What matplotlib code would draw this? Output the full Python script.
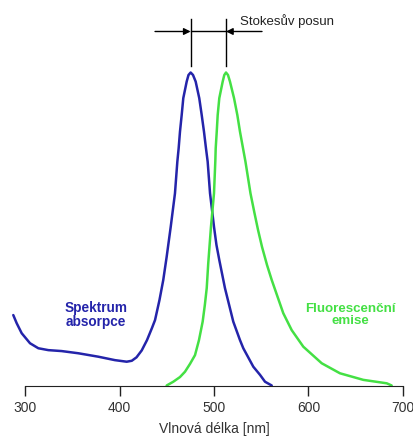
import matplotlib
matplotlib.use("Agg")
import matplotlib.pyplot as plt
import numpy as np

# absorption spectrum (blue)
abs_nm = [287.6, 291.2, 296.5, 305.3, 314.1, 324.7, 338.8, 356.4, 377.6, 395.2,
          407.6, 413.0, 418.0, 423.5, 429.1, 434.4, 437.6, 442.3, 446.3, 449.9, 454.2,
          458.7, 461.2, 462.6, 464.0, 465.8, 467.5, 471.1, 473.0, 475.3, 477.8,
          480.6, 484.4, 487.0, 489.4, 491.5, 493.3, 495.8, 497.9, 500.0, 502.6,
          505.6, 511.6, 520.4, 527.5, 531.0, 541.6, 548.7, 554.0, 561.1]
abs_val = [0.225, 0.199, 0.167, 0.135, 0.119, 0.113, 0.110, 0.103, 0.092, 0.081,
           0.076, 0.079, 0.090, 0.112, 0.145, 0.184, 0.209, 0.273, 0.337, 0.411, 0.507,
           0.614, 0.715, 0.758, 0.811, 0.864, 0.918, 0.971, 0.992, 1.0, 0.992,
           0.971, 0.918, 0.864, 0.811, 0.758, 0.715, 0.614, 0.561, 0.507, 0.449,
           0.401, 0.311, 0.204, 0.145, 0.119, 0.060, 0.034, 0.012, 0.0]

# fluorescence emission (green)
em_nm = [449.9, 456.9, 464.0, 469.3, 474.6, 479.9, 484.1, 488.0, 490.3, 492.3,
         493.9, 496.8, 500.0, 501.4, 501.8, 502.9, 503.9, 505.6, 509.2, 510.9,
         512.7, 514.8, 516.9, 521.2, 524.7, 527.5, 530.7, 533.3, 538.6, 542.9,
         546.6, 550.8, 556.1, 561.1, 573.3, 582.2, 594.5, 614.0, 633.3, 658.0,
         682.8, 688.0]
em_val = [0.0, 0.012, 0.027, 0.044, 0.069, 0.097, 0.145, 0.204, 0.257, 0.311,
          0.390, 0.507, 0.614, 0.717, 0.758, 0.811, 0.864, 0.918, 0.971, 0.992,
          1.0, 0.992, 0.971, 0.918, 0.864, 0.811, 0.758, 0.715, 0.614, 0.550,
          0.497, 0.443, 0.385, 0.337, 0.231, 0.177, 0.124, 0.071, 0.039, 0.018,
          0.007, 0.0]

xticks = [300, 400, 500, 600, 700]

BLUE = "#2424aa"
GREEN = "#44e044"

plt.rcParams['font.family'] = ['Liberation Sans', 'DejaVu Sans']

fig = plt.figure(figsize=(4.14, 4.41), dpi=100)
ax = fig.add_axes([25/414, 55.5/441, 378/414, 313/441])

ax.plot(abs_nm, abs_val, color=BLUE, lw=1.8, solid_joinstyle="round",
        solid_capstyle="round", clip_on=False)
ax.plot(em_nm, em_val, color=GREEN, lw=1.8, solid_joinstyle="round",
        solid_capstyle="round", clip_on=False)

ax.set_xlim(300, 700)
ax.set_ylim(0, 1)
for s in ["top", "right", "left"]:
    ax.spines[s].set_visible(False)
ax.spines["bottom"].set_color("#222222")
ax.set_yticks([])
ax.set_xticks(xticks)
ax.tick_params(axis="x", direction="out", length=7.5, width=1, color="#222222",
               labelsize=10, labelcolor="#333333", pad=4)
ax.set_xlabel("Vlnová délka [nm]", fontsize=10, color="#333333", labelpad=5)

# labels for the curves
ax.text(375, 0.224, "Spektrum\nabsorpce", color=BLUE, fontsize=9.8, fontweight="bold",
        ha="center", va="center", linespacing=1.0)
ax.text(644, 0.225, "Fluorescenční\nemise", color=GREEN, fontsize=9.6, fontweight="bold",
        ha="center", va="center", linespacing=1.0)

# Stokes shift marker
p_abs = abs_nm[int(np.argmax(abs_val))]
p_em = em_nm[int(np.argmax(em_val))]
y_line = 1.131
for p in (p_abs, p_em):
    ax.plot([p, p], [1.02, 1.17], color="black", lw=1, clip_on=False)
ax.plot([p_abs, p_em], [y_line, y_line], color="black", lw=1, clip_on=False)
ax.annotate("", xy=(p_abs, y_line), xytext=(437.6, y_line), annotation_clip=False,
            arrowprops=dict(arrowstyle="-|>", color="black", lw=1, mutation_scale=10,
                            shrinkA=0, shrinkB=0))
ax.annotate("", xy=(p_em, y_line), xytext=(550.8, y_line), annotation_clip=False,
            arrowprops=dict(arrowstyle="-|>", color="black", lw=1, mutation_scale=10,
                            shrinkA=0, shrinkB=0))
ax.text(528, 1.163, "Stokesův posun", fontsize=9.5, color="#222222",
        ha="left", va="center")

fig.savefig("out.png", dpi=100)
